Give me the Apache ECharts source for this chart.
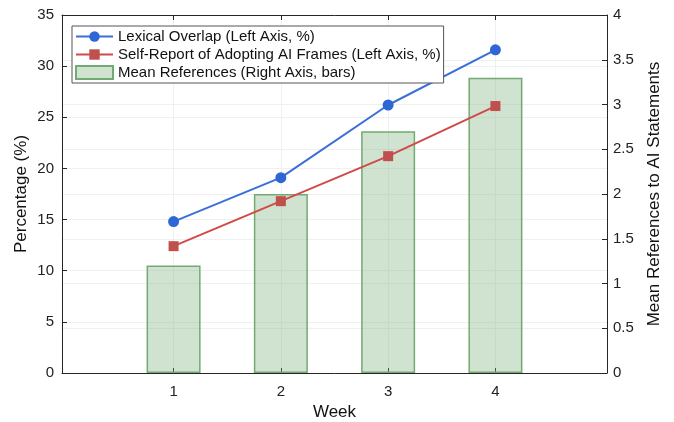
<!DOCTYPE html>
<html><head><meta charset="utf-8">
<script src="https://cdn.jsdelivr.net/npm/echarts@6/dist/echarts.min.js"></script>
<style>html,body{margin:0;padding:0;background:#fff}#c{width:674px;height:422px}</style>
</head><body><div id="c"></div>
<script>
const weeks = [1, 2, 3, 4];
const lexicalOverlap = [14.8, 19.1, 26.2, 31.6];
const selfReport = [12.4, 16.8, 21.2, 26.1];
const meanReferences = [1.2, 2.0, 2.7, 3.3];
const leftTicks = [0, 5, 10, 15, 20, 25, 30, 35];
const rightTicks = [0, 0.5, 1, 1.5, 2, 2.5, 3, 3.5, 4];
const xRange = [-0.04, 5.04];

const FONT = 'Liberation Sans, Arial, sans-serif';
const AX = '#262626';
const GRID = '#f0f0f0';
const names = ['Lexical Overlap (Left Axis, %)', 'Self-Report of Adopting AI Frames (Left Axis, %)', 'Mean References (Right Axis, bars)'];

const chart = echarts.init(document.getElementById('c'), null, {renderer: 'canvas'});
chart.setOption({
  animation: false,
  backgroundColor: '#fff',
  grid: {left: 62, right: 67, top: 15, bottom: 49, show: false, containLabel: false, outerBoundsMode: 'none'},
  legend: {
    orient: 'vertical', left: 72, top: 26,
    backgroundColor: '#fff', borderColor: '#555', borderWidth: 1,
    padding: [3, 3, 3, 3], itemGap: 3, itemWidth: 37, itemHeight: 13,
    textStyle: {fontFamily: FONT, fontSize: 15, lineHeight: 15, color: '#111'},
    data: [{name: names[0]}, {name: names[1]}, {name: names[2], icon: 'rect'}]
  },
  xAxis: [{
    type: 'value', min: xRange[0], max: xRange[1],
    name: 'Week', nameLocation: 'middle', nameGap: 30,
    nameTextStyle: {fontFamily: FONT, fontSize: 17, color: '#111'},
    axisLine: {show: true, onZero: false, lineStyle: {color: AX}},
    axisTick: {show: true, inside: true, length: 5, customValues: weeks, lineStyle: {color: AX}},
    axisLabel: {fontFamily: FONT, fontSize: 15, color: '#222', margin: 11, customValues: weeks},
    splitLine: {show: true, lineStyle: {color: GRID}}
  }, {
    type: 'value', min: xRange[0], max: xRange[1], position: 'top',
    axisLine: {show: true, onZero: false, lineStyle: {color: AX}},
    axisTick: {show: true, inside: true, length: 5, customValues: weeks, lineStyle: {color: AX}},
    axisLabel: {show: false}, splitLine: {show: false}
  }],
  yAxis: [{
    type: 'value', min: leftTicks[0], max: leftTicks[leftTicks.length - 1], interval: 5,
    name: 'Percentage (%)', nameLocation: 'middle', nameGap: 32, nameMoveOverlap: false,
    nameTextStyle: {fontFamily: FONT, fontSize: 17, color: '#111'},
    axisLine: {show: true, onZero: false, lineStyle: {color: AX}},
    axisTick: {show: true, inside: true, length: 5, lineStyle: {color: AX}},
    axisLabel: {fontFamily: FONT, fontSize: 15, color: '#222', margin: 8, padding: [3, 0, 0, 0]},
    splitLine: {show: true, lineStyle: {color: GRID}}
  }, {
    type: 'value', min: rightTicks[0], max: rightTicks[rightTicks.length - 1], interval: 0.5,
    position: 'right',
    name: 'Mean References to AI Statements', nameLocation: 'middle', nameGap: 39,
    nameTextStyle: {fontFamily: FONT, fontSize: 17, color: '#111'},
    axisLine: {show: true, onZero: false, lineStyle: {color: AX}},
    axisTick: {show: true, inside: true, length: 5, lineStyle: {color: AX}},
    axisLabel: {fontFamily: FONT, fontSize: 15, color: '#222', margin: 6, padding: [3, 0, 0, 0]},
    splitLine: {show: true, lineStyle: {color: GRID}}
  }],
  series: [{
    name: names[2], type: 'bar', xAxisIndex: 0, yAxisIndex: 1, barWidth: 54, z: 1,
    data: weeks.map((w, i) => [w, meanReferences[i]]),
    itemStyle: {color: 'rgba(120,172,120,0.35)', borderColor: '#72aa72', borderWidth: 1.5}
  }, {
    name: names[0], type: 'line', xAxisIndex: 0, yAxisIndex: 0, z: 3,
    data: weeks.map((w, i) => [w, lexicalOverlap[i]]),
    symbol: 'circle', symbolSize: 11,
    lineStyle: {color: '#3a6fd8', width: 2},
    itemStyle: {color: '#2f66d6'}
  }, {
    name: names[1], type: 'line', xAxisIndex: 0, yAxisIndex: 0, z: 3,
    data: weeks.map((w, i) => [w, selfReport[i]]),
    symbol: 'rect', symbolSize: 10,
    lineStyle: {color: '#d04a4a', width: 2},
    itemStyle: {color: '#c0504d'}
  }]
});
</script></body></html>
